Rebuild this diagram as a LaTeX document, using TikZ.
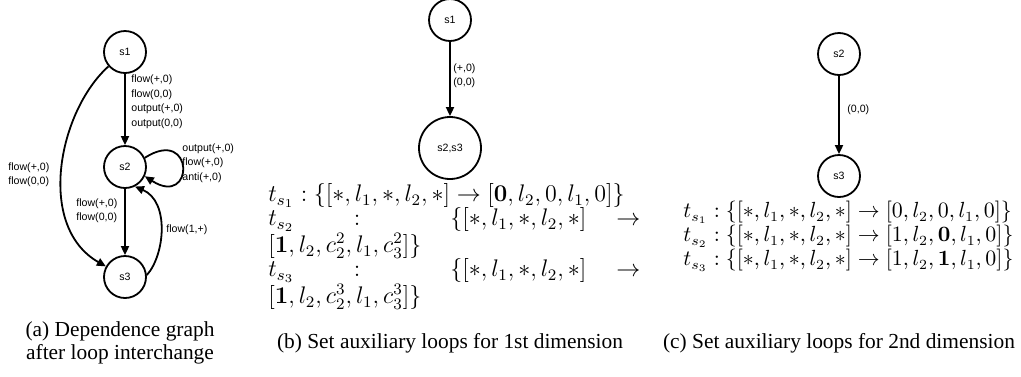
\documentclass[tikz,border=0pt]{standalone}
\usepackage[no-math]{fontspec}
\setmainfont{Liberation Serif}
\newfontfamily\lblfont{Liberation Sans}
\usetikzlibrary{arrows.meta}
\newcommand\gapfil[1]{\hskip 0pt plus #1fil\relax}
\begin{document}
\begin{tikzpicture}[x=0.5pt,y=-0.5pt,
  st/.style={circle,draw,line width=0.9pt,minimum size=21pt,inner sep=0pt,font=\lblfont\fontsize{5.3}{6}\selectfont},
  big/.style={st,minimum size=31pt},
  lbl/.style={font=\lblfont\fontsize{5.3}{7.25}\selectfont,align=left,inner sep=0pt,anchor=west},
  arr/.style={line width=0.9pt,-{Triangle[length=4.5pt,width=4pt]}},
  captxt/.style={font=\fontsize{10.7}{11.5}\selectfont,align=center,inner sep=0pt},
  mathbox/.style={inner sep=0pt,anchor=north west},
]
\useasboundingbox (0,0) rectangle (1021,376);
% ---------- panel (a)
\node[st] (a1) at (125,52) {s1};
\node[st] (a2) at (125,167) {s2};
\node[st] (a3) at (125,277) {s3};
\draw[arr] (a1) -- (a2);
\draw[arr] (a2) -- (a3);
\draw[arr] (a1.221) .. controls +(-50,45) and +(-70,-40) .. (a3.151);
\draw[arr] (a3.5) .. controls +(18,-20) and +(35,15) .. (a2.-63);
\draw[arr] (a2.25) .. controls +(50,-32) and +(50,32) .. (a2.-25);
\node[lbl] (la1) at (131,102) {flow(+,0)\\flow(0,0)\\output(+,0)\\output(0,0)};
\node[lbl] (la2) at (182,163) {output(+,0)\\flow(+,0)\\anti(+,0)};
\node[lbl] (la3) at (8,174.5) {flow(+,0)\\flow(0,0)};
\node[lbl] (la4) at (76,210.5) {flow(+,0)\\flow(0,0)};
\node[lbl] (la5) at (166,230) {flow(1,+)};
\node[captxt] (ca) at (120,343) {(a) Dependence graph\\after loop interchange};
% ---------- panel (b)
\node[st] (b1) at (450,20) {s1};
\node[big] (b2) at (450,148) {s2,s3};
\draw[arr] (b1) -- (b2);
\node[lbl] (lb1) at (453,76) {(+,0)\\(0,0)};
\node[mathbox,align=left,font=\fontsize{11.6}{12}\selectfont] (bm) at (268,183) {%
$t_{s_1}: \{[*,l_1,*,l_2,*]\rightarrow[\mathbf{0},l_2,0,l_1,0]\}$\\
\hbox to 186pt{$t_{s_2}$\gapfil{2}$:$\gapfil{3}$\{[*,l_1,*,l_2,*]$\gapfil{1}$\rightarrow$}\\
$[\mathbf{1},l_2,c_2^2,l_1,c_3^2]\}$\\
\hbox to 186pt{$t_{s_3}$\gapfil{2}$:$\gapfil{3}$\{[*,l_1,*,l_2,*]$\gapfil{1}$\rightarrow$}\\
$[\mathbf{1},l_2,c_2^3,l_1,c_3^3]\}$};
\node[captxt] (cb) at (450,343) {(b) Set auxiliary loops for 1st dimension};
% ---------- panel (c)
\node[st] (c2) at (839,54) {s2};
\node[st] (c3) at (839,176) {s3};
\draw[arr] (c2) -- (c3);
\node[lbl] (lc1) at (847,110) {(0,0)};
\node[mathbox,align=left,font=\fontsize{10.65}{12}\selectfont] (cm) at (683,201) {$t_{s_1}: \{[*,l_1,*,l_2,*]\rightarrow[0,l_2,0,l_1,0]\}$\\
$t_{s_2}: \{[*,l_1,*,l_2,*]\rightarrow[1,l_2,\mathbf{0},l_1,0]\}$\\
$t_{s_3}: \{[*,l_1,*,l_2,*]\rightarrow[1,l_2,\mathbf{1},l_1,0]\}$};
\node[captxt] (cc) at (839,343) {(c) Set auxiliary loops for 2nd dimension};
\end{tikzpicture}
\end{document}
